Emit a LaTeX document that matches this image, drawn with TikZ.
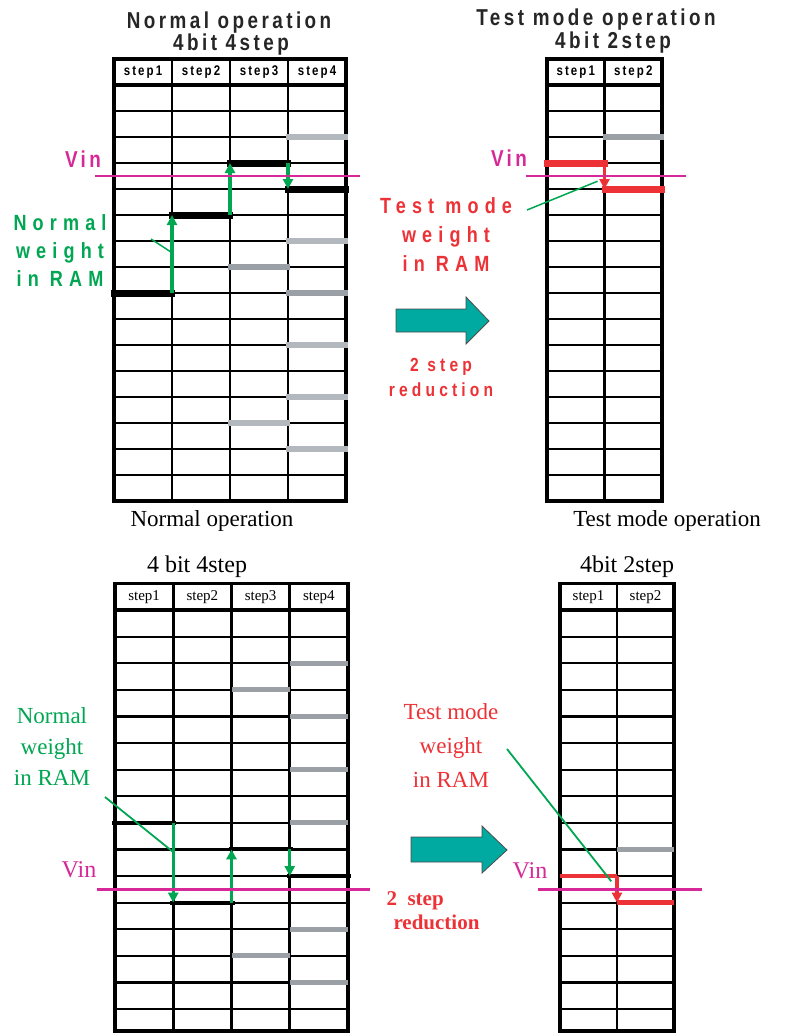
\documentclass[tikz,border=0pt]{standalone}
\usepackage{fontspec}
\setmainfont{Liberation Serif}
\newfontfamily\strettosans[FakeStretch=0.82,LetterSpace=15]{Liberation Sans}
\usetikzlibrary{arrows.meta}

\definecolor{verdepeso}{RGB}{0,166,81}
\definecolor{rossotest}{RGB}{237,50,55}
\definecolor{magvin}{RGB}{214,40,150}
\definecolor{tealfreccia}{RGB}{0,170,160}
\definecolor{grigiochiaro}{RGB}{178,184,190}
\definecolor{grigioscuro}{RGB}{154,160,166}

\tikzset{
  bordo/.style={line width=3.4pt},
  riga/.style={line width=2.2pt},
  colonna/.style={line width=2.6pt},
  barra nera/.style={line width=7pt,shorten <=-3pt,shorten >=-3pt},
  barra chiara/.style={grigiochiaro,line width=6.5pt,shorten <=-2pt,shorten >=-2pt},
  barra scura/.style={grigioscuro,line width=6.5pt,shorten <=-2pt,shorten >=-2pt},
  barra rossa/.style={rossotest,line width=7pt,shorten <=-3pt,shorten >=-3pt},
  freccia verde/.style={verdepeso,line width=3.3pt,-{Triangle[length=10pt,width=10pt]}},
  freccia rossa/.style={rossotest,line width=3.3pt,-{Triangle[length=10pt,width=10pt]}},
  linea vin/.style={magvin,line width=1.5pt},
  richiamo/.style={verdepeso,line width=1.5pt},
  titolo sans/.style={font=\strettosans\bfseries\fontsize{23}{25}\selectfont,text=black!85},
  cella sans/.style={font=\strettosans\bfseries\fontsize{14}{15}\selectfont},
  cella serif/.style={font=\fontsize{15}{16}\selectfont},
  etichetta sans/.style={align=center,font=\strettosans\bfseries\addfontfeature{LetterSpace=28}\fontsize{22}{#1}\selectfont},
  etichetta sans/.default=28,
  blocco/.style={fill=tealfreccia,draw=black!70,line width=0.8pt}
}

\begin{document}
\begin{tikzpicture}[x=1pt,y=-1pt]
  \fill[white] (0,0) rectangle (785,1034);
  \useasboundingbox (0,0) rectangle (785,1034);

  % Titoli in alto
  \node[titolo sans] (titA1) at (229,23) {Normal operation};
  \node[titolo sans] (titA2) at (231,45) {4bit 4step};
  \node[titolo sans] (titB1) at (596,20) {Test mode operation};
  \node[titolo sans] (titB2) at (613,43) {4bit 2step};

  % Tabella 4 bit 4 step (sopra)
  \begin{scope}[shift={(114,85)},x=58pt,y=-26pt]
    \draw[bordo] (0,-1) rectangle (4,16);
    \foreach \k in {1,...,15} \draw[riga] (0,\k) -- (4,\k);
    \draw[bordo] (0,0) -- (4,0);
    \foreach \c in {1,2,3} \draw[colonna] (\c,-1) -- (\c,16);
    \foreach \c in {1,...,4} \node[cella sans] (pA\c) at (\c-0.5,-0.5) {step\c};
    % livelli non scelti
    \draw[barra chiara] (3,2) -- (4,2);
    \draw[barra chiara] (3,6) -- (4,6);
    \draw[barra scura] (2,7) -- (3,7);
    \draw[barra scura] (3,8) -- (4,8);
    \draw[barra chiara] (3,10) -- (4,10);
    \draw[barra chiara] (3,12) -- (4,12);
    \draw[barra chiara] (2,13) -- (3,13);
    \draw[barra chiara] (3,14) -- (4,14);
    % percorso della ricerca
    \draw[barra nera] (0,8) -- (1,8);
    \draw[barra nera] (1,5) -- (2,5);
    \draw[barra nera] (2,3) -- (3,3);
    \draw[barra nera] (3,4) -- (4,4);
    \draw[freccia verde] (1,8) -- (1,5);
    \draw[freccia verde] (2,5) -- (2,3);
    \draw[freccia verde] (3,3) -- (3,4);
    \draw[linea vin] (-0.33,3.5) -- (4.24,3.5);
    \coordinate (rA2) at (1,6.45);
  \end{scope}

  % Tabella 4 bit 2 step (sopra)
  \begin{scope}[shift={(547,85)},x=57.5pt,y=-26pt]
    \draw[bordo] (0,-1) rectangle (2,16);
    \foreach \k in {1,...,15} \draw[riga] (0,\k) -- (2,\k);
    \draw[bordo] (0,0) -- (2,0);
    \draw[colonna] (1,-1) -- (1,16);
    \foreach \c in {1,2} \node[cella sans] (pB\c) at (\c-0.5,-0.5) {step\c};
    \draw[barra scura] (1,2) -- (2,2);
    \draw[barra rossa] (0,3) -- (1,3);
    \draw[barra rossa] (1,4) -- (2,4);
    \draw[freccia rossa] (1,3) -- (1,4);
    \draw[linea vin] (-0.37,3.5) -- (2.42,3.5);
    \coordinate (rB2) at (0.88,3.7);
  \end{scope}

  % Etichette sopra
  \node[magvin,font=\strettosans\bfseries\fontsize{23}{25}\selectfont] (vinA) at (83,159) {Vin};
  \node[magvin,font=\strettosans\bfseries\fontsize{23}{25}\selectfont] (vinB) at (509,158) {Vin};
  \node[verdepeso,etichetta sans] (pesoA) at (60,251) {Normal\\weight\\in RAM};
  \node[rossotest,etichetta sans=29] (pesoB) at (446,235) {Test mode\\weight\\in RAM};
  \coordinate (rA1) at (151,239);
  \coordinate (rB1) at (527,210);
  \draw[richiamo] (rA1) -- (rA2);
  \draw[richiamo] (rB1) -- (rB2);

  % Freccia di riduzione (sopra)
  \draw[blocco] (396,309) -- (466,309) -- (466,297) -- (489,321) -- (466,344) -- (466,332) -- (396,332) -- cycle;
  \node[rossotest,align=center,font=\strettosans\bfseries\addfontfeature{LetterSpace=22}\fontsize{19}{25}\selectfont] (ridA) at (441,377) {2 step\\reduction};

  \node[font=\fontsize{23}{25}\selectfont] (opA) at (212,521) {Normal operation};
  \node[font=\fontsize{23}{25}\selectfont] (opB) at (667,521) {Test mode operation};

  % Titoli in basso
  \node[font=\fontsize{24}{26}\selectfont] (titC) at (197,567) {4 bit 4step};
  \node[font=\fontsize{24}{26}\selectfont] (titD) at (627,567) {4bit 2step};

  % Tabella 4 bit 4 step (sotto)
  \begin{scope}[shift={(115,610)},x=58.25pt,y=-26.6pt,
      barra nera/.append style={line width=4pt},
      barra scura/.append style={line width=5pt,shorten <=0pt,shorten >=0pt}]
    \draw[bordo] (0,-1) rectangle (4,15.83);
    \foreach \k in {1,...,15} \draw[riga] (0,\k) -- (4,\k);
    \draw[bordo] (0,0) -- (4,0);
    \foreach \c in {1,2,3} \draw[colonna] (\c,-1) -- (\c,15.83);
    \foreach \c in {1,...,4} \node[cella serif] (pC\c) at (\c-0.5,-0.5) {step\c};
    \foreach \k in {2,4,6,8,12,14} \draw[barra scura] (3,\k) -- (4,\k);
    \foreach \k in {3,13} \draw[barra scura] (2,\k) -- (3,\k);
    \draw[barra nera] (0,8) -- (1,8);
    \draw[barra nera] (1,11) -- (2,11);
    \draw[barra nera] (2,9) -- (3,9);
    \draw[barra nera] (3,10) -- (4,10);
    \draw[freccia verde] (1,8) -- (1,11);
    \draw[freccia verde] (2,11) -- (2,9);
    \draw[freccia verde] (3,9) -- (3,10);
    \draw[linea vin,line width=2.4pt] (-0.31,10.5) -- (4.38,10.5);
    \coordinate (rC2) at (1,9.1);
  \end{scope}

  % Tabella 4 bit 2 step (sotto)
  \begin{scope}[shift={(560,610)},x=57pt,y=-26.6pt,
      barra rossa/.append style={line width=4.5pt,shorten <=0pt,shorten >=0pt},
      barra scura/.append style={line width=5pt,shorten <=0pt,shorten >=0pt}]
    \draw[bordo] (0,-1) rectangle (2,15.83);
    \foreach \k in {1,...,15} \draw[riga] (0,\k) -- (2,\k);
    \draw[bordo] (0,0) -- (2,0);
    \draw[colonna] (1,-1) -- (1,15.83);
    \foreach \c in {1,2} \node[cella serif] (pD\c) at (\c-0.5,-0.5) {step\c};
    \draw[barra scura] (1,9) -- (2,9);
    \draw[barra rossa] (0,10) -- (1,10);
    \draw[barra rossa] (1,11) -- (2,11);
    \draw[freccia rossa] (1,10) -- (1,11);
    \draw[linea vin,line width=2.4pt] (-0.39,10.5) -- (2.49,10.5);
    \coordinate (rD2) at (0.9,10.2);
  \end{scope}

  % Etichette sotto
  \node[magvin,font=\fontsize{24}{26}\selectfont] (vinC) at (79,870) {Vin};
  \node[magvin,font=\fontsize{24}{26}\selectfont] (vinD) at (530,871) {Vin};
  \node[verdepeso,align=center,font=\fontsize{23}{31}\selectfont] (pesoC) at (52,747) {Normal\\weight\\in RAM};
  \node[rossotest,align=center,font=\fontsize{23}{34}\selectfont] (pesoD) at (451,746) {Test mode\\weight\\in RAM};
  \coordinate (rC1) at (105,797);
  \coordinate (rD1) at (507,749);
  \draw[richiamo,line width=1.8pt] (rC1) -- (rC2);
  \draw[richiamo,line width=1.8pt] (rD1) -- (rD2);

  % Freccia di riduzione (sotto)
  \draw[blocco] (411,837) -- (482,837) -- (482,826) -- (507,850) -- (482,873) -- (482,862) -- (411,862) -- cycle;
  \node[rossotest,align=left,anchor=west,font=\bfseries\fontsize{21}{24}\selectfont] (ridB) at (383,911) {2~~step\\\hspace*{7pt}reduction};
\end{tikzpicture}
\end{document}
